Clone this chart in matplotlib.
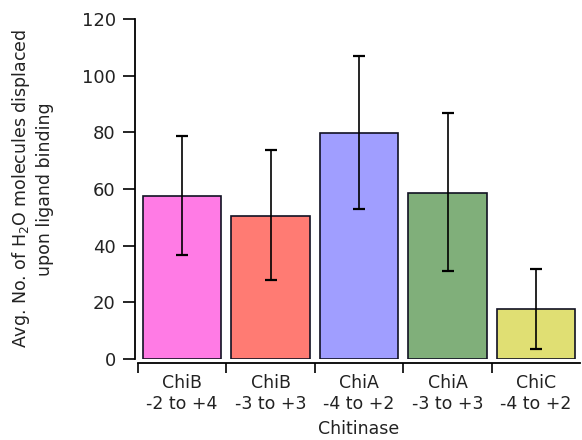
import matplotlib
matplotlib.use("Agg")
import matplotlib.pyplot as plt
import numpy as np

# chart data
enzymes = ["ChiB", "ChiB", "ChiA", "ChiA", "ChiC"]
subsites = ["-2 to +4", "-3 to +3", "-4 to +2", "-3 to +3", "-4 to +2"]
waters = [57.5, 50.5, 79.8, 58.7, 17.5]
err_lo = [20.8, 22.7, 26.9, 27.7, 14.0]
err_hi = [21.2, 23.3, 27.2, 28.1, 14.3]
colors = ["#FF7BE5", "#FF7B73", "#A09EFF", "#80AF7A", "#E0DF73"]

plt.rcParams["font.family"] = ["DejaVu Sans"]

fig = plt.figure(figsize=(5.82, 4.40), dpi=100)
ax = fig.add_axes([0.237, 0.184, 0.76, 0.773])

x = np.arange(len(waters))
ax.bar(x, waters, width=0.885, color=colors, edgecolor="#111122",
       linewidth=1.2, zorder=2)
ax.errorbar(x, waters, yerr=[err_lo, err_hi], fmt="none", ecolor="black",
            elinewidth=1.2, capsize=4.5, capthick=1.6, zorder=3)

ax.set_xlim(-0.5, 4.5)
ax.set_ylim(0, 120)
ax.set_yticks(range(0, 121, 20))
ax.tick_params(axis="y", direction="out", length=9, width=1.2,
               labelsize=13, pad=5, labelcolor="#222222")

labels = [f"{e}\n{s}" for e, s in zip(enzymes, subsites)]
ax.set_xticks(x, labels, linespacing=1.15)
ax.set_xticks(np.arange(-0.5, 4.0, 1.0), minor=True)
ax.tick_params(axis="x", which="major", length=0, pad=8,
               labelsize=12.5, labelcolor="#222222")
ax.tick_params(axis="x", which="minor", direction="out", length=7, width=1.2)

ax.spines["top"].set_visible(False)
ax.spines["right"].set_visible(False)
ax.spines["left"].set_position(("outward", 2))
ax.spines["bottom"].set_position(("outward", 3))
for s in ("left", "bottom"):
    ax.spines[s].set_linewidth(1.3)

ax.set_xlabel("Chitinase", fontsize=12.5, labelpad=5, color="#222222")
ax.set_ylabel("Avg. No. of H$_\\mathregular{2}$O molecules displaced\nupon ligand binding",
              fontsize=12.5, labelpad=20, linespacing=1.25, color="#222222")

fig.savefig("out.png", dpi=100)
